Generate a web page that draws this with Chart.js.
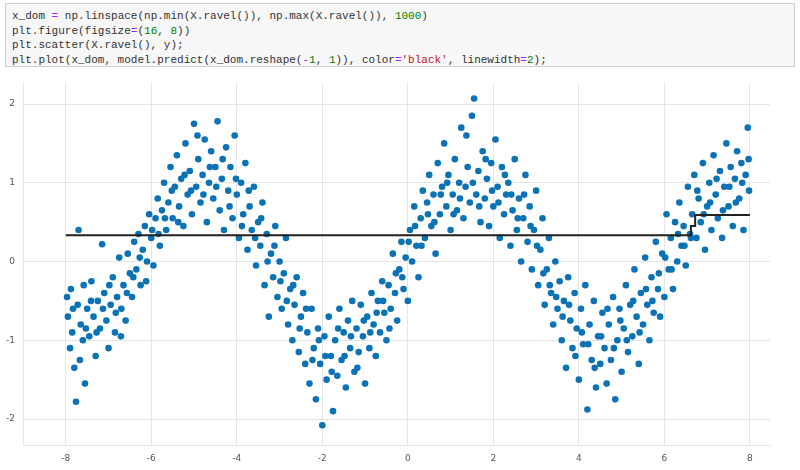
<!DOCTYPE html>
<html><head><meta charset="utf-8">
<script src="https://cdn.jsdelivr.net/npm/chart.js@4"></script>
<style>
body{margin:0;background:#fff;width:800px;height:470px;overflow:hidden;position:relative}
#code{position:absolute;left:5px;top:3px;width:790px;height:64px;box-sizing:border-box;background:#f7f7f7;border:1px solid #cfcfcf;font-family:"Liberation Mono",monospace;font-size:11px;line-height:14.5px;padding:5px 6px;color:#333;white-space:pre}
.o{color:#aa22ff}.n{color:#008000}.s{color:#ba2121}
#wrap{position:absolute;left:0;top:0;width:800px;height:470px}
</style></head><body>
<div id="code">x_dom <span class="o">=</span> np.linspace(np.min(X.ravel()), np.max(X.ravel()), <span class="n">1000</span>)
plt.figure(figsize<span class="o">=</span>(<span class="n">16</span>, <span class="n">8</span>))
plt.scatter(X.ravel(), y);
plt.plot(x_dom, model.predict(x_dom.reshape(<span class="o">-</span><span class="n">1</span>, <span class="n">1</span>)), color<span class="o">=</span><span class="s">'black'</span>, linewidth<span class="o">=</span><span class="n">2</span>);</div>
<div id="wrap"><canvas id="c" width="800" height="470"></canvas></div>
<script>
const xs=[-7.95,-7.9,-7.88,-7.85,-7.8,-7.76,-7.72,-7.7,-7.65,-7.6,-7.58,-7.55,-7.5,-7.45,-7.4,-7.35,-7.3,-7.25,-7.2,-7.15,-7.1,-7.05,-7.0,-6.95,-6.9,-6.85,-6.8,-6.75,-6.7,-6.65,-6.6,-6.55,-6.5,-6.45,-6.4,-6.35,-6.3,-6.25,-6.2,-6.15,-6.1,-6.05,-6.0,-5.95,-5.9,-5.85,-5.8,-5.75,-5.7,-5.65,-5.6,-5.55,-5.5,-5.45,-5.4,-5.35,-5.3,-5.25,-5.2,-5.15,-5.1,-5.05,-5.0,-4.95,-4.9,-4.85,-4.8,-4.75,-4.7,-4.65,-4.6,-4.55,-4.5,-4.45,-4.4,-4.35,-4.3,-4.25,-4.2,-4.15,-4.1,-4.05,-4.0,-3.95,-3.9,-3.85,-3.8,-3.75,-3.7,-3.65,-3.6,-3.55,-3.5,-3.45,-3.4,-3.35,-3.3,-3.25,-3.2,-3.15,-3.1,-3.05,-3.0,-2.95,-2.9,-2.85,-2.8,-2.75,-2.7,-2.65,-2.6,-2.55,-2.5,-2.45,-2.4,-2.35,-2.3,-2.25,-2.2,-2.15,-2.1,-2.05,-2.0,-1.95,-1.9,-1.85,-1.8,-1.75,-1.7,-1.65,-1.6,-1.55,-1.5,-1.45,-1.4,-1.35,-1.3,-1.25,-1.2,-1.15,-1.1,-1.05,-1.0,-0.95,-0.9,-0.85,-0.8,-0.75,-0.7,-0.65,-0.6,-0.55,-0.5,-0.45,-0.4,-0.35,-0.3,-0.25,-0.2,-0.15,-0.1,-0.05,0.0,0.05,0.1,0.15,0.2,0.25,0.3,0.35,0.4,0.45,0.5,0.55,0.6,0.65,0.7,0.75,0.8,0.85,0.9,0.95,1.0,1.05,1.1,1.15,1.2,1.25,1.3,1.35,1.4,1.45,1.5,1.55,1.6,1.65,1.7,1.75,1.8,1.85,1.9,1.95,2.0,2.05,2.1,2.15,2.2,2.25,2.3,2.35,2.4,2.45,2.5,2.55,2.6,2.65,2.7,2.75,2.8,2.85,2.9,2.95,3.0,3.05,3.1,3.15,3.2,3.25,3.3,3.35,3.4,3.45,3.5,3.55,3.6,3.65,3.7,3.75,3.8,3.85,3.9,3.95,4.0,4.05,4.1,4.15,4.2,4.25,4.3,4.35,4.4,4.45,4.5,4.55,4.6,4.65,4.7,4.75,4.8,4.85,4.9,4.95,5.0,5.05,5.1,5.15,5.2,5.25,5.3,5.35,5.4,5.45,5.5,5.55,5.6,5.65,5.7,5.75,5.8,5.85,5.9,5.95,6.0,6.05,6.1,6.15,6.2,6.25,6.3,6.35,6.4,6.45,6.5,6.55,6.6,6.65,6.7,6.75,6.8,6.85,6.9,6.95,7.0,7.05,7.1,7.15,7.2,7.25,7.3,7.35,7.4,7.45,7.5,7.55,7.6,7.65,7.7,7.75,7.8,7.85,7.9,7.95,7.98];
const ys=[-0.7,-1.1,-0.35,-0.9,-1.35,-1.78,-0.55,0.4,-0.8,-1.0,-0.3,-1.55,-0.6,-0.95,-0.25,-0.7,-1.2,-0.5,-0.85,0.22,-0.4,-0.75,-1.1,-0.55,-0.2,-0.9,-0.45,0.05,-0.6,-0.3,-0.75,0.1,-0.15,-0.45,0.25,-0.1,0.35,-0.3,0.15,0.45,0.0,0.6,0.3,-0.05,0.55,0.8,0.2,0.65,1.0,0.4,0.75,1.2,0.55,0.95,1.35,0.7,1.05,0.45,1.5,0.85,1.15,0.6,1.75,0.95,1.3,0.75,1.1,1.55,0.5,1.0,1.4,0.8,1.2,1.78,0.65,1.05,0.4,1.45,0.9,1.2,0.55,1.6,0.85,0.3,1.0,0.6,1.25,0.15,0.7,0.4,0.95,-0.05,0.5,0.2,0.75,-0.3,0.35,-0.7,0.1,-0.2,0.45,-0.45,0.0,-0.6,-0.15,0.3,-0.8,-0.35,-1.0,-0.55,-0.2,-1.15,-0.7,-0.4,-1.3,-0.9,-1.55,-0.6,-1.1,-1.75,-0.85,-1.3,-2.08,-0.95,-1.5,-0.7,-1.2,-1.9,-1.0,-1.45,-0.6,-1.25,-0.9,-1.6,-0.75,-1.1,-0.5,-1.4,-0.85,-1.15,-0.55,-0.95,-1.55,-0.7,-1.1,-0.4,-0.8,-1.2,-0.5,-0.9,-0.25,-0.65,-1.0,-0.3,-0.6,0.1,-0.4,-0.75,-0.1,0.25,-0.35,0.05,-0.5,0.4,0.0,0.7,0.2,-0.2,0.55,0.9,0.3,0.75,1.1,0.45,0.85,0.1,1.25,0.6,0.95,1.5,0.7,1.1,0.4,0.85,1.3,0.65,1.0,1.7,0.55,0.95,1.2,0.75,1.85,2.07,0.85,1.15,0.5,1.4,0.8,1.05,0.45,1.25,0.7,1.55,0.95,0.3,1.2,0.6,0.85,1.0,0.2,0.65,1.3,0.4,0.8,0.0,0.55,1.1,0.25,0.7,-0.1,0.4,0.9,-0.3,0.15,0.55,-0.55,-0.1,0.3,-0.4,-0.8,0.0,-0.6,-0.25,-1.0,-0.5,-1.35,-0.2,-0.75,-1.1,-0.4,-0.85,-1.5,-0.6,-1.05,-0.3,-1.88,-0.8,-1.25,-0.5,-1.6,-0.95,-1.3,-0.65,-1.1,-1.55,-0.8,-1.25,-0.45,-1.75,-1.0,-0.6,-1.4,-0.85,-0.3,-1.15,-0.55,-0.95,-0.1,-0.7,-1.3,-0.4,-0.8,0.05,-0.55,-1.0,-0.2,-0.65,0.25,-0.35,-0.7,0.1,-0.45,0.6,-0.1,0.3,-0.35,0.5,0.0,0.75,0.2,0.45,-0.05,0.95,0.35,0.6,1.1,0.3,0.8,0.5,1.25,0.15,0.7,1.0,0.4,1.35,0.85,0.55,1.15,0.3,0.95,1.5,0.7,1.2,0.45,1.05,1.4,0.8,1.25,0.4,1.1,1.7,0.9];
const xs2=[-7.97,-7.83,-7.67,-7.53,-7.41,-7.28,-7.13,-6.98,-6.83,-6.71,-6.57,-6.42,-6.27,-6.12,-5.98,-5.83,-5.68,-5.52,-5.37,-5.22,-5.07,-4.92,-4.78,-4.63,-4.48,-4.33,-4.17,-4.02,-3.88,-3.72,-3.57,-3.43,-3.28,-3.12,-2.98,-2.83,-2.68,-2.53,-2.38,-2.23,-2.08,-1.93,-1.78,-1.63,-1.48,-1.33,-1.18,-1.03,-0.88,-0.73,-0.58,-0.43,-0.28,-0.13,0.02,0.17,0.32,0.47,0.62,0.77,0.92,1.07,1.22,1.37,1.52,1.67,1.82,1.97,2.12,2.27,2.42,2.57,2.72,2.87,3.02,3.17,3.32,3.47,3.62,3.77,3.92,4.07,4.22,4.37,4.52,4.67,4.82,4.97,5.12,5.27,5.42,5.57,5.72,5.87,6.02,6.17,6.32,6.47,6.62,6.77,6.92,7.07,7.22,7.37,7.52,7.67,7.82,7.97];
const ys2=[-0.45,-0.6,-1.25,-0.85,-0.5,-0.9,-0.6,-0.3,-0.65,-0.95,-0.4,-0.2,0.05,-0.25,0.4,0.35,0.55,0.9,0.5,1.1,0.9,1.6,0.85,1.2,0.95,1.3,0.7,1.05,0.45,0.9,0.3,0.55,0.0,0.2,-0.25,-0.5,-0.3,-0.85,-0.6,-1.25,-1.0,-1.2,-1.4,-0.85,-1.2,-0.95,-1.35,-0.75,-0.9,-0.65,-0.5,-0.85,-0.15,-0.2,0.25,0.45,0.2,0.6,0.5,0.85,1.0,0.6,0.8,1.6,1.0,0.7,1.3,0.9,0.75,1.1,0.85,0.55,0.85,0.45,0.2,-0.15,-0.3,-0.45,-0.7,-0.55,-1.2,-0.9,-1.05,-1.35,-0.95,-0.6,-1.1,-0.75,-1.0,-0.5,-0.9,-0.35,-0.5,-0.15,0.05,-0.1,0.35,0.2,0.3,0.9,0.6,0.75,1.05,0.65,0.95,0.75,1.0,1.3];
const lineX=[-8,6.62,6.62,6.72,6.72,8];
const lineY=[0.335,0.335,0.45,0.45,0.59,0.59];
const xTicks=[-8,-6,-4,-2,0,2,4,6,8];
const yTicks=[-2,-1,0,1,2];
const pts=xs.map((x,i)=>({x:x,y:ys[i]})).concat(xs2.map((x,i)=>({x:x,y:ys2[i]})));
const lpts=lineX.map((x,i)=>({x:x,y:lineY[i]}));
new Chart(document.getElementById('c'),{
 data:{datasets:[
  {type:'line',data:lpts,borderColor:'#222',borderWidth:2,pointRadius:0,fill:false,tension:0},
  {type:'scatter',data:pts,backgroundColor:'#0b72b5',borderColor:'#0b72b5',pointRadius:3.3,pointBorderWidth:0}
 ]},
 options:{responsive:false,animation:false,
  layout:{padding:{top:82,right:30,left:0,bottom:0}},
  plugins:{legend:{display:false},tooltip:{enabled:false}},
  scales:{
   x:{type:'linear',min:-9.0,max:8.47,afterBuildTicks:a=>{a.ticks=xTicks.map(v=>({value:v}));},
      grid:{color:'#e6e6e6',drawTicks:false},border:{color:'#e6e6e6'},
      ticks:{color:'#555',font:{size:9,family:'DejaVu Sans'},padding:8},
      afterFit:s=>{s.height=25;}},
   y:{min:-2.33,max:2.28,afterBuildTicks:a=>{a.ticks=yTicks.map(v=>({value:v}));},
      grid:{color:'#e6e6e6',drawTicks:false},border:{color:'#e6e6e6'},
      ticks:{color:'#555',font:{size:9,family:'DejaVu Sans'},padding:8},
      afterFit:s=>{s.width=23;}}
  }}
});
</script></body></html>
